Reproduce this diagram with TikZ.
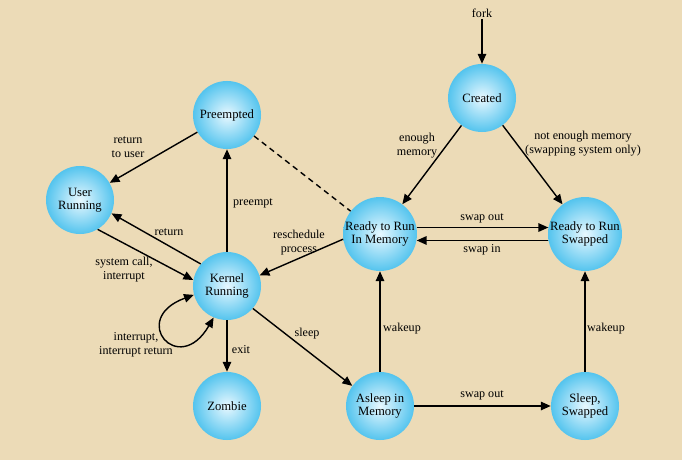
\documentclass[tikz,border=0pt]{standalone}
\usepackage{fontspec}
\setmainfont{Liberation Serif}
\usetikzlibrary{arrows,arrows.meta,positioning}
\definecolor{parchment}{RGB}{236,219,183}
\definecolor{ballin}{RGB}{232,248,255}
\definecolor{ballout}{RGB}{84,196,238}
\tikzset{
  state/.style={circle, minimum size=1.7cm, inner sep=0pt, shading=radial,
    inner color=ballin, outer color=ballout, align=center,
    font=\fontsize{9}{9.6}\selectfont},
  lbl/.style={align=center, inner sep=1pt, font=\fontsize{8.6}{10}\selectfont},
  trans/.style={draw, line width=1pt, arrows={-Triangle[length=7pt,width=6pt]}}
}

\begin{document}
\begin{tikzpicture}[x=0.025cm, y=0.025cm]
\fill [parchment] (0, 0) rectangle (682, 460);

\node [state] (created) at (482, 362) {Created};
\node [state] (preempted) at (227, 345) {Preempted};
\node [state] (user) at (80, 260) {User\\Running};
\node [state] (kernel) at (227, 174) {Kernel\\Running};
\node [state] (zombie) at (227, 54) {Zombie};
\node [state] (rrmem) at (380, 226) {Ready to Run\\In Memory};
\node [state] (rrswap) at (585, 226) {Ready to Run\\Swapped};
\node [state] (asleep) at (380, 54) {Asleep in\\Memory};
\node [state] (sleepsw) at (585, 54) {Sleep,\\Swapped};

\node [lbl] (fork) at (482, 447) {fork};
\node [lbl] (lenough) at (417, 314) {enough\\memory};
\node [lbl] (lnotenough) at (583, 316) {not enough memory\\(swapping system only)};
\node [lbl] (lswapout) at (482, 242) {swap out};
\node [lbl] (lswapin) at (482, 210) {swap in};
\node [lbl] (ltouser) at (128, 313) {return\\to user};
\node [lbl] (lpreempt) at (253, 257) {preempt};
\node [lbl] (lreturn) at (169, 228) {return};
\node [lbl] (lresched) at (299, 217) {reschedule\\process};
\node [lbl] (lsyscall) at (124, 190) {system call,\\interrupt};
\node [lbl] (linterrupt) at (136, 115) {interrupt,\\interrupt return};
\node [lbl] (lexit) at (241, 110) {exit};
\node [lbl] (lsleep) at (307, 126) {sleep};
\node [lbl] (lwakemem) at (402, 131) {wakeup};
\node [lbl] (lwakeswap) at (606, 131) {wakeup};
\node [lbl] (lswapsleep) at (482, 65) {swap out};

\draw [trans] (fork) -- (created);
\draw [trans] (created) -- (rrmem);
\draw [trans] (created) -- (rrswap);
\draw [trans] (rrmem.10) -- (rrswap.170);
\draw [trans] (rrswap.190) -- (rrmem.-10);
\draw [trans] (rrmem.188) -- (kernel.18);
\draw [dash pattern=on 4pt off 3pt, line width=1pt] (preempted) -- (rrmem);
\draw [trans] (kernel) -- (preempted);
\draw [trans] (preempted) -- (user);
\draw [trans] (kernel.140) -- (user.-23);
\draw [trans] (user.-59) -- (kernel.170);
\draw [line width=1pt, arrows={Triangle[length=7pt,width=6pt]-Triangle[length=7pt,width=6pt]}]
  (kernel.195) .. controls +(200:70) and +(240:70) .. (kernel.-113);
\draw [trans] (kernel) -- (zombie);
\draw [trans] (kernel.-41) -- (asleep.144);
\draw [trans] (asleep) -- (rrmem);
\draw [trans] (asleep) -- (sleepsw);
\draw [trans] (sleepsw) -- (rrswap);

\end{tikzpicture}
\end{document}
